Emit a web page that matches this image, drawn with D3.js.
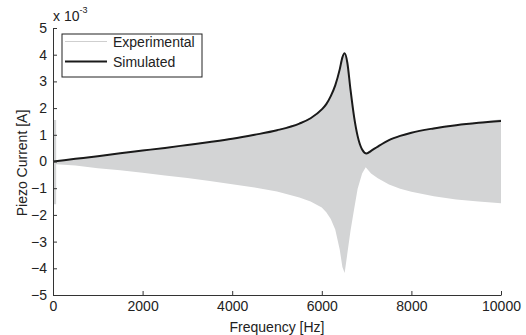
<!DOCTYPE html>
<html>
<head>
<meta charset="utf-8">
<script src="https://cdn.jsdelivr.net/npm/d3@7"></script>
<style>
  body { margin: 0; background: #fff; }
  svg { display: block; font-family: "Liberation Sans", Arial, sans-serif; }
  .axis path, .axis line { stroke: #333; }
  .axis text { fill: #222; font-size: 14px; }
</style>
</head>
<body>
<div id="chart"></div>
<script>
// Experimental signal envelope (x 10^-3 A)
const expFreq  = [0, 70, 71, 500, 1000, 1500, 2000, 2500, 3000, 3500, 4000, 4500, 5000, 5500, 5750,
                  6000, 6100, 6200, 6300, 6400, 6460, 6510, 6570, 6640, 6720,
                  6800, 6900, 6980, 7100, 7250, 7500, 7750, 8000, 8500, 9000, 9500, 10000];
const expUpper = [1.55, 1.55, 0.03, 0.12, 0.22, 0.33, 0.43, 0.53, 0.64, 0.75, 0.87, 1.02, 1.19, 1.44, 1.64,
                  1.97, 2.17, 2.47, 2.87, 3.47, 3.9, 4.05, 3.72, 2.72, 1.7,
                  0.97, 0.47, 0.3, 0.42, 0.58, 0.82, 0.99, 1.1, 1.27, 1.39, 1.48, 1.58];
const expLower = [-1.6, -1.6, -0.1, -0.15, -0.25, -0.33, -0.42, -0.52, -0.62, -0.73, -0.85, -0.97, -1.12, -1.35, -1.5,
                  -1.72, -1.9, -2.15, -2.55, -3.3, -3.95, -4.18, -3.45, -2.6, -1.8,
                  -1.02, -0.45, -0.22, -0.45, -0.63, -0.86, -1.02, -1.13, -1.3, -1.42, -1.5, -1.56];

// Simulated current (x 10^-3 A)
const simFreq  = [0, 500, 1000, 1500, 2000, 2500, 3000, 3500, 4000, 4500, 5000, 5500, 5750,
                  6000, 6100, 6200, 6300, 6400, 6460, 6510, 6570, 6640, 6720, 6800, 6900,
                  7000, 7100, 7250, 7500, 7750, 8000, 8500, 9000, 9500, 10000];
const simValue = [0, 0.1, 0.2, 0.31, 0.41, 0.51, 0.62, 0.73, 0.85, 1.0, 1.17, 1.42, 1.62,
                  1.95, 2.15, 2.45, 2.85, 3.45, 3.9, 4.05, 3.7, 2.7, 1.68, 0.95, 0.45,
                  0.3, 0.4, 0.56, 0.8, 0.96, 1.08, 1.24, 1.36, 1.45, 1.52];

const xTicks = [0, 2000, 4000, 6000, 8000, 10000];
const yTicks = [-5, -4, -3, -2, -1, 0, 1, 2, 3, 4, 5];
const legendLabels = ["Experimental", "Simulated"];

const W = 526, H = 335;
const svg = d3.select("#chart").append("svg")
  .attr("width", W)
  .attr("height", H);

const x = d3.scaleLinear().domain([0, 10000]).range([53, 501]);
const y = d3.scaleLinear().domain([-5, 5]).range([295, 28]);

// experimental band
const expData = expFreq.map((f, i) => ({ f: f, hi: expUpper[i], lo: expLower[i] }));
svg.append("path")
  .datum(expData)
  .attr("fill", "#d3d4d5")
  .attr("d", d3.area().x(d => x(d.f)).y0(d => y(d.lo)).y1(d => y(d.hi)));

// simulated line
const simData = simFreq.map((f, i) => ({ f: f, v: simValue[i] }));
svg.append("path")
  .datum(simData)
  .attr("fill", "none")
  .attr("stroke", "#1a1a1a")
  .attr("stroke-width", 2)
  .attr("stroke-linejoin", "round")
  .attr("d", d3.line().curve(d3.curveMonotoneX).x(d => x(d.f)).y(d => y(d.v)));

// axes (ticks pointing inward)
svg.append("g")
  .attr("class", "axis")
  .attr("transform", "translate(0,295)")
  .call(d3.axisBottom(x).tickValues(xTicks).tickFormat(d3.format("d"))
    .tickSizeInner(-4).tickSizeOuter(0).tickPadding(6));

svg.append("g")
  .attr("class", "axis")
  .attr("transform", "translate(53,0)")
  .call(d3.axisLeft(y).tickValues(yTicks).tickFormat(d3.format("d"))
    .tickSizeInner(-4).tickSizeOuter(0).tickPadding(6));

// exponent note
const expo = svg.append("text")
  .attr("x", 53).attr("y", 21)
  .attr("font-size", 14).attr("fill", "#222");
expo.append("tspan").text("x 10");
expo.append("tspan").attr("dy", -8).attr("font-size", 9).text("-3");

// axis labels
svg.append("text")
  .attr("x", x(5000)).attr("y", 332)
  .attr("text-anchor", "middle")
  .attr("font-size", 14).attr("fill", "#222")
  .text("Frequency [Hz]");

svg.append("text")
  .attr("transform", "translate(27,163) rotate(-90)")
  .attr("text-anchor", "middle")
  .attr("font-size", 14).attr("fill", "#222")
  .text("Piezo Current [A]");

// legend
const lg = svg.append("g");
lg.append("rect")
  .attr("x", 62).attr("y", 34).attr("width", 140).attr("height", 43)
  .attr("fill", "#fff").attr("stroke", "#222").attr("stroke-width", 1);
const lgStyle = [{ c: "#cfcfcf", w: 1 }, { c: "#1a1a1a", w: 2 }];
legendLabels.forEach((t, i) => {
  const yy = 41.5 + i * 20;
  lg.append("line")
    .attr("x1", 65).attr("x2", 107).attr("y1", yy).attr("y2", yy)
    .attr("stroke", lgStyle[i].c).attr("stroke-width", lgStyle[i].w);
  lg.append("text")
    .attr("x", 113).attr("y", yy + 5)
    .attr("font-size", 14).attr("fill", "#222")
    .text(t);
});
</script>
</body>
</html>
